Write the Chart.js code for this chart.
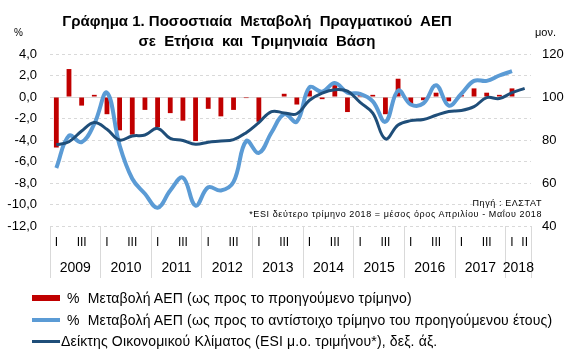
<!DOCTYPE html>
<html>
<head>
<meta charset="utf-8">
<script src="https://cdn.jsdelivr.net/npm/chart.js@4.4.1/dist/chart.umd.min.js"></script>
<style>
html,body{margin:0;padding:0;background:#fff;}
#wrap{position:relative;width:586px;height:364px;overflow:hidden;font-family:"Liberation Sans",Arial,sans-serif;color:#000;background:#fff;}
#c{position:absolute;left:0;top:0;}
.t{position:absolute;white-space:nowrap;}
#title{left:0;top:11px;width:514px;text-align:center;font-weight:bold;font-size:15px;line-height:20px;}
#unitL{left:14px;top:27px;font-size:10px;line-height:12px;}
#unitR{left:535px;top:26px;font-size:11px;line-height:12px;}
#src{right:44px;top:198px;font-size:9px;line-height:11px;letter-spacing:0.6px;}
#note{right:44px;top:209px;font-size:9px;line-height:11px;letter-spacing:0.6px;}
.lg{position:absolute;left:32px;height:16px;display:flex;align-items:center;font-size:14px;line-height:16px;letter-spacing:0.15px;white-space:nowrap;}
.mk{display:inline-block;width:28px;margin-right:7px;}
</style>
</head>
<body>
<div id="wrap">
<canvas id="c" width="586" height="364"></canvas>
<div class="t" id="title">Γράφημα 1. Ποσοστιαία&nbsp; Μεταβολή&nbsp; Πραγματικού&nbsp; ΑΕΠ<br>σε&nbsp; Ετήσια&nbsp; και&nbsp; Τριμηνιαία&nbsp; Βάση</div>
<div class="t" id="unitL">%</div>
<div class="t" id="unitR">μον.</div>
<div class="t" id="src">Πηγή : ΕΛΣΤΑΤ</div>
<div class="t" id="note">*ESI δεύτερο τρίμηνο 2018 = μέσος όρος Απριλίου - Μαΐου 2018</div>
<div class="lg" style="top:290px"><span class="mk" style="height:6px;background:#C00000"></span>%&nbsp; Μεταβολή ΑΕΠ (ως προς το προηγούμενο τρίμηνο)</div>
<div class="lg" style="top:312px"><span class="mk" style="height:4px;background:#5B9BD5"></span>%&nbsp; Μεταβολή ΑΕΠ (ως προς το αντίστοιχο τρίμηνο του προηγούμενου έτους)</div>
<div class="lg" style="top:333px"><span class="mk" style="height:3px;background:#1F4E79;margin-right:1px"></span>Δείκτης Οικονομικού Κλίματος (ESI μ.ο. τριμήνου*), δεξ. άξ.</div>
</div>
<script>
// Quarter tick labels (2009Q1 .. 2018Q2)
const quarterLabels = [
  'I','','III','',  'I','','III','',  'I','','III','',  'I','','III','',  'I','','III','',
  'I','','III','',  'I','','III','',  'I','','III','',  'I','','III','',  'I','II'
];
const yearLabels = ['2009','2010','2011','2012','2013','2014','2015','2016','2017','2018'];
const yearCenters = [2,6,10,14,18,22,26,30,34,37];

// % change of GDP vs previous quarter (bars, left axis)
const gdpQoQ = [
  -4.7, 2.6, -0.8, 0.2,
  -1.6, -3.1, -3.5, -1.2,
  -2.8, -1.5, -2.2, -4.1,
  -1.1, -1.8, -1.2, -0.1,
  -2.3, 0.0, 0.3, -0.7,
  0.6, -0.2, 1.1, -1.4,
  0.2, 0.2, -1.6, 1.7,
  -0.7, -0.3, 0.4, -0.4,
  0.2, 0.8, 0.4, 0.2,
  0.8, null
];
// % change of GDP vs same quarter of previous year (light blue, left axis)
const gdpYoY = [
  -6.6, -3.6, -4.2, -2.5,
  0.4, -4.5, -7.6, -9.0,
  -10.3, -8.7, -7.5, -10.1,
  -8.4, -8.7, -7.9, -4.1,
  -5.2, -3.3, -1.6, -2.3,
  0.9, 0.5, 1.3, 0.4,
  0.3, -0.4, -2.3, 0.6,
  -0.7, -0.6, 1.1, -0.8,
  0.3, 1.5, 1.5, 2.0,
  2.4, null
];
// Economic Sentiment Indicator, quarterly average (navy, right axis)
const esi = [
  77.8, 79.2, 84.2, 88.1,
  85.0, 80.0, 81.9, 82.3,
  85.4, 80.8, 79.8, 78.0,
  79.0, 79.5, 80.2, 83.4,
  88.1, 93.2, 92.6, 92.2,
  98.5, 101.8, 103.4, 102.7,
  97.5, 92.5, 80.5, 87.0,
  89.0, 89.5, 91.5, 93.3,
  93.7, 95.5, 99.7, 99.3,
  102.0, 104.0
];

const FF = '"Liberation Sans", Arial, sans-serif';
Chart.defaults.font.family = FF;
Chart.defaults.color = '#000';

new Chart(document.getElementById('c'), {
  type: 'bar',
  data: {
    labels: quarterLabels,
    datasets: [
      { type: 'line', label: 'ESI', data: esi, yAxisID: 'y2', borderColor: '#1F4E79', backgroundColor: '#1F4E79',
        borderWidth: 3, pointRadius: 0, tension: 0.4, fill: false, order: 1 },
      { type: 'line', label: 'YoY', data: gdpYoY, yAxisID: 'y', borderColor: '#5B9BD5', backgroundColor: '#5B9BD5',
        borderWidth: 4, pointRadius: 0, tension: 0.4, fill: false, order: 2 },
      { type: 'bar', label: 'QoQ', data: gdpQoQ, yAxisID: 'y', backgroundColor: '#C00000',
        barPercentage: 0.38, categoryPercentage: 1.0, order: 3 }
    ]
  },
  options: {
    responsive: false,
    animation: false,
    devicePixelRatio: 1,
    layout: { padding: { top: 54, left: 0, right: 0, bottom: 0 } },
    plugins: { legend: { display: false }, tooltip: { enabled: false }, title: { display: false } },
    scales: {
      x: {
        type: 'category', position: 'bottom', weight: 0, offset: true,
        grid: { display: true, drawOnChartArea: false, drawTicks: true, tickLength: 52, offset: true, lineWidth: 1,
          color: c => (c.type !== 'tick' || c.index % 4 === 0) ? '#D9D9D9' : 'rgba(0,0,0,0)' },
        border: { display: false },
        ticks: { autoSkip: false, maxRotation: 0, minRotation: 0, padding: -43, font: { size: 12 }, color: '#000' },
        afterFit: s => { s.height = 30; }
      },
      x2: {
        type: 'linear', position: 'bottom', weight: 1, min: 0, max: 38, offset: false,
        grid: { display: false, drawTicks: false, offset: false }, border: { display: false },
        afterBuildTicks: s => { s.ticks = yearCenters.map(v => ({ value: v })); },
        ticks: { autoSkip: false, maxRotation: 0, minRotation: 0, padding: 4, font: { size: 14 }, color: '#000',
          callback: (v, i) => yearLabels[i] },
        afterFit: s => { s.height = 108; }
      },
      y: {
        position: 'left', min: -12, max: 4,
        ticks: { stepSize: 2, padding: 13, font: { size: 13 }, color: '#000',
          callback: v => Number(v).toFixed(1).replace('.', ',') },
        grid: { color: '#D9D9D9', drawTicks: false, lineWidth: 1 },
        border: { display: false, dash: c => (c.tick && c.tick.value === 0) ? [] : [3, 3] },
        afterFit: s => { s.width = 50; }
      },
      y2: {
        position: 'right', min: 40, max: 120,
        ticks: { stepSize: 20, padding: 11, font: { size: 13 }, color: '#000' },
        grid: { drawOnChartArea: false, drawTicks: false },
        border: { display: false },
        afterFit: s => { s.width = 55; }
      }
    }
  }
});
</script>
</body>
</html>
